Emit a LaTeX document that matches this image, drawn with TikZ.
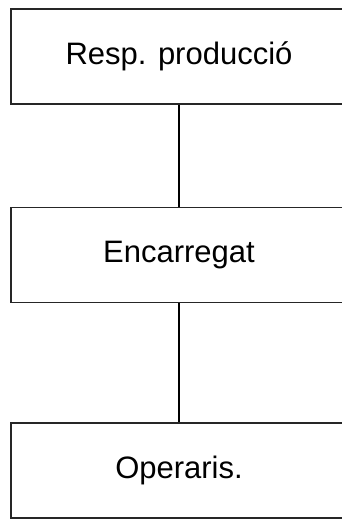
\documentclass[tikz,border=0pt]{standalone}
\usepackage{fontspec}
\setmainfont{Liberation Sans}
\begin{document}
\begin{tikzpicture}[x=1pt,y=-1pt,
  orgbox/.style={draw=black!85, line width=1.5pt, rectangle, minimum width=336pt, minimum height=95pt, inner sep=0pt, font=\fontsize{31}{36}\selectfont},
  link/.style={draw=black, line width=1.5pt}]
\useasboundingbox (0,0) rectangle (342,520);
\clip (0,0) rectangle (342,520);
\node[orgbox] (a) at (179,56.5) {Resp. producció};
\node[orgbox] (b) at (179,255) {Encarregat};
\node[orgbox] (c) at (179,470.5) {Operaris.};
\draw[link] (a.south) -- (b.north);
\draw[link] (b.south) -- (c.north);
\end{tikzpicture}
\end{document}
